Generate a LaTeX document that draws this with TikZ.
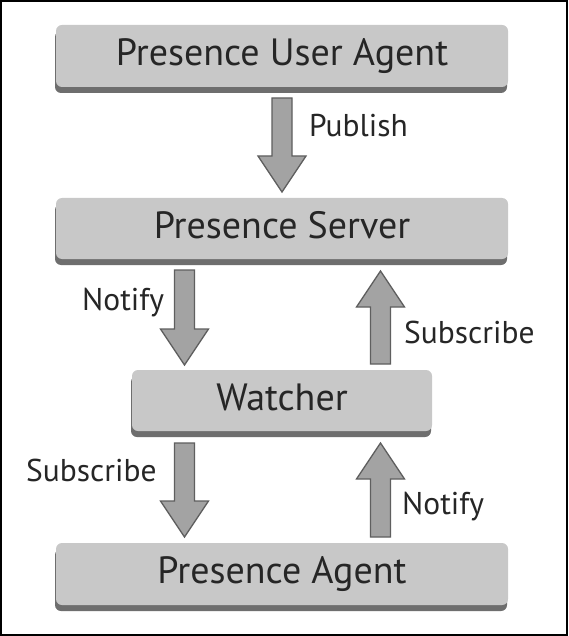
\documentclass[tikz,border=0pt]{standalone}
\usepackage{fontspec}
\setmainfont{PT Sans}
\usetikzlibrary{shadows,calc}
\definecolor{boxfill}{HTML}{C8C8C8}
\definecolor{boxshadow}{HTML}{6E6E6E}
\definecolor{arrowfill}{HTML}{A3A3A3}
\definecolor{arrowline}{HTML}{5F5F5F}
\definecolor{txt}{HTML}{262626}
\begin{document}
\begin{tikzpicture}[x=1pt,y=-1pt,
  stage/.style={draw=none, fill=boxfill, rounded corners=6pt, inner sep=0pt,
    text=txt, font=\fontsize{38}{41}\selectfont, text height=27pt, text depth=8pt,
    drop shadow={shadow xshift=-1pt, shadow yshift=-6pt, fill=boxshadow, opacity=1}},
  lbl/.style={text=txt, font=\fontsize{31.5}{35}\selectfont, inner sep=0pt, anchor=base west},
  fat/.style={fill=arrowfill, draw=arrowline, line width=1.3pt, line join=miter},
  downfat/.style={to path={let \p1=(\tikztostart), \p2=(\tikztotarget) in
    (\x1-10pt,\y1) -- (\x1+10pt,\y1) -- (\x1+10pt,\y2+36pt) -- (\x1+24pt,\y2+36pt)
    -- (\x2,\y2) -- (\x1-24pt,\y2+36pt) -- (\x1-10pt,\y2+36pt) -- cycle}},
  upfat/.style={to path={let \p1=(\tikztostart), \p2=(\tikztotarget) in
    (\x1-10pt,\y1) -- (\x1+10pt,\y1) -- (\x1+10pt,\y2-36pt) -- (\x1+24pt,\y2-36pt)
    -- (\x2,\y2) -- (\x1-24pt,\y2-36pt) -- (\x1-10pt,\y2-36pt) -- cycle}}]
\useasboundingbox (0,0) rectangle (568,636);
\fill[white] (0,0) rectangle (568,636);
\draw[black, line width=2pt] (1,1) rectangle (567,635);

\node[stage, minimum width=452pt, minimum height=62pt] (ua) at (282,56) {Presence User Agent};
\node[stage, minimum width=452pt, minimum height=61pt] (ps) at (282,228.5) {Presence Server};
\node[stage, minimum width=300pt, minimum height=61pt] (w) at (282,400.5) {Watcher};
\node[stage, minimum width=452pt, minimum height=62pt] (pa) at (282,574) {Presence Agent};

\coordinate (pubA) at (282,98);
\coordinate (pubB) at (282,192);
\coordinate (n1A) at (184.5,270);
\coordinate (n1B) at (184.5,365);
\coordinate (s1A) at (380.5,364);
\coordinate (s1B) at (380.5,271);
\coordinate (s2A) at (184.5,443);
\coordinate (s2B) at (184.5,537);
\coordinate (n2A) at (380.5,537);
\coordinate (n2B) at (380.5,443);

\draw[fat] (pubA) to[downfat] (pubB);
\draw[fat] (n1A) to[downfat] (n1B);
\draw[fat] (s1A) to[upfat] (s1B);
\draw[fat] (s2A) to[downfat] (s2B);
\draw[fat] (n2A) to[upfat] (n2B);

\node[lbl] (lpub) at (309,137) {Publish};
\node[lbl] (ln1) at (82,310) {Notify};
\node[lbl] (ls1) at (404,343) {Subscribe};
\node[lbl] (ls2) at (26,481) {Subscribe};
\node[lbl] (ln2) at (402,514) {Notify};
\end{tikzpicture}
\end{document}
